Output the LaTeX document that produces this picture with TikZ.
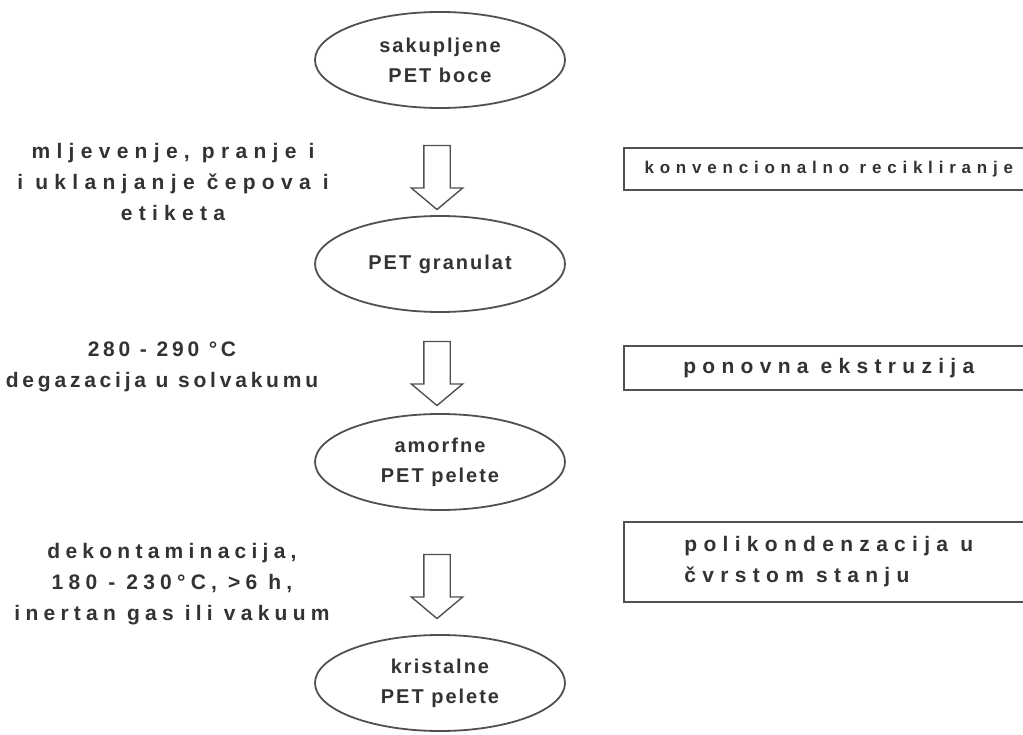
\documentclass[tikz,border=0pt]{standalone}
\usepackage{fontspec}
\setmainfont{Liberation Sans}
\newfontfamily\stagefont{Liberation Sans}[LetterSpace=10]
\newfontfamily\condfont{Liberation Sans}[LetterSpace=18]
\newfontfamily\widecondfont{Liberation Sans}[LetterSpace=30]
\newfontfamily\midcondfont{Liberation Sans}[LetterSpace=25]
\newfontfamily\notefont{Liberation Sans}[LetterSpace=30]
\newfontfamily\smallnotefont{Liberation Sans}[LetterSpace=34]
\usepackage{tikz}
\usetikzlibrary{shapes.geometric, shapes.arrows, positioning}

\definecolor{inkgray}{HTML}{333333}
\definecolor{edgegray}{HTML}{505050}

\begin{document}
\begin{tikzpicture}[x=1pt, y=-1pt,
    stage/.style={ellipse, draw=edgegray, line width=1.8pt, minimum width=250pt,
      minimum height=96pt, inner sep=0pt, align=center, text=inkgray,
      font=\stagefont\bfseries\fontsize{20}{30}\selectfont},
    flow/.style={single arrow, draw=edgegray, line width=1.4pt, shape border rotate=270,
      minimum height=64pt, minimum width=50pt, single arrow head extend=12.5pt,
      single arrow tip angle=100, inner sep=12.5pt},
    cond/.style={align=center, text=inkgray, font=\condfont\bfseries\fontsize{21}{31}\selectfont},
    note/.style={draw=edgegray, line width=1.6pt, minimum width=410pt, anchor=west,
      text=inkgray, font=\notefont\bfseries\fontsize{21}{31}\selectfont}]
  \useasboundingbox (0,0) rectangle (1023,735);

  % stanja materijala
  \node[stage] (boce) at (440,60) {sakupljene\\PET boce};
  \node[stage] (granulat) at (440,264) {PET granulat};
  \node[stage] (amorfne) at (440,462) {amorfne\\PET pelete};
  \node[stage] (kristalne) at (440,683) {kristalne\\PET pelete};

  % strelice
  \node[flow] (s1) at (437,172) {};
  \node[flow] (s2) at (437,368) {};
  \node[flow] (s3) at (437,581) {};

  % uvjeti postupka
  \node[cond, font=\widecondfont\bfseries\fontsize{21}{31}\selectfont] (c1) at (173,182)
    {mljevenje, pranje i\\i uklanjanje čepova i\\etiketa};
  \node[cond] (c2) at (162,367) {280 - 290 °C\\degazacija u solvakumu};
  \node[cond, font=\midcondfont\bfseries\fontsize{21}{31}\selectfont] (c3) at (172,584)
    {dekontaminacija,\\180 - 230°C, >6 h,\\inertan gas ili vakuum};

  % vrste recikliranja
  \node[note, minimum height=42pt, font=\smallnotefont\bfseries\fontsize{17}{20}\selectfont]
    (n1) at (623,169) {konvencionalno recikliranje};
  \node[note, minimum height=44pt] (n2) at (623,368) {ponovna ekstruzija};
  \node[note, minimum height=80pt, align=left] (n3) at (623,562) {polikondenzacija u\\čvrstom stanju};
\end{tikzpicture}
\end{document}
